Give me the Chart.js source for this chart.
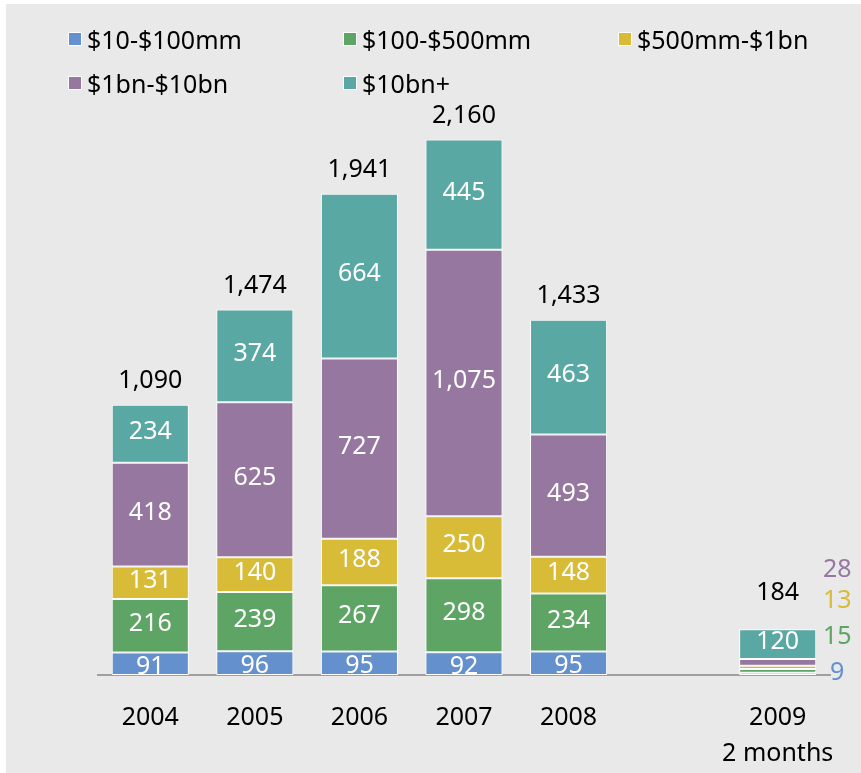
<!DOCTYPE html>
<html>
<head>
<meta charset="utf-8">
<script src="https://cdn.jsdelivr.net/npm/chart.js@4/dist/chart.umd.min.js"></script>
<style>
  html, body { margin: 0; padding: 0; background: #fff; }
  #wrap { position: relative; width: 861px; height: 773px; overflow: hidden; }
  #bg { position: absolute; left: 6px; top: 4px; right: 0; bottom: 0; background: #e9e9e9; }
  #chart { position: absolute; left: 0; top: 0; }
  .leg { position: absolute; font: 25px "Noto Sans", sans-serif; color: #000; white-space: nowrap; line-height: 28px; }
  .leg i { position: absolute; left: -19px; top: 7px; width: 12px; height: 12px; border: 1px solid #fff; }
</style>
</head>
<body>
<div id="wrap">
  <div id="bg"></div>
  <canvas id="chart" width="861" height="773"></canvas>
  <div id="legend"></div>
</div>
<script>
// categories (empty slot between 2008 and 2009)
const years = ['2004', '2005', '2006', '2007', '2008', '', ['2009', '2 months']];

// deal counts by size bucket
const tier10to100mm = [91, 96, 95, 92, 95, null, 9];
const tier100to500mm = [216, 239, 267, 298, 234, null, 15];
const tier500mmTo1bn = [131, 140, 188, 250, 148, null, 13];
const tier1to10bn = [418, 625, 727, 1075, 493, null, 28];
const tier10bnPlus = [234, 374, 664, 445, 463, null, 120];
const totals = [1090, 1474, 1941, 2160, 1433, null, 184];

const seriesNames = ['$10-$100mm', '$100-$500mm', '$500mm-$1bn', '$1bn-$10bn', '$10bn+'];
const colors = ['#6490cd', '#5ea465', '#d8bb36', '#95779f', '#5aa8a4'];

// html legend
const legendPos = [[87, 25], [362, 25], [637, 25], [87, 69], [362, 69]];
const legend = document.getElementById('legend');
seriesNames.forEach((name, i) => {
  const d = document.createElement('div');
  d.className = 'leg';
  d.style.left = legendPos[i][0] + 'px';
  d.style.top = legendPos[i][1] + 'px';
  d.innerHTML = '<i style="background:' + colors[i] + '"></i>';
  d.appendChild(document.createTextNode(name));
  legend.appendChild(d);
});

const FONT = '"Noto Sans", sans-serif';
const LAST = years.length - 1;
// where the tiny 2009 segments get their labels (px above the axis)
const sideOffsets = [2, 38, 74, 105];

const labelPlugin = {
  id: 'labels',
  afterDatasetsDraw(chart) {
    const ctx = chart.ctx;
    const area = chart.chartArea;
    ctx.save();
    ctx.font = '25px ' + FONT;
    ctx.textAlign = 'center';
    ctx.textBaseline = 'middle';

    chart.data.datasets.forEach((ds, di) => {
      const meta = chart.getDatasetMeta(di);
      meta.data.forEach((bar, i) => {
        const v = ds.data[i];
        if (v == null) return;
        if (i === LAST && di < 4) {
          ctx.fillStyle = colors[di];
          ctx.fillText(String(v), bar.x + bar.width / 2 + 21, area.bottom - sideOffsets[di]);
          return;
        }
        ctx.save();
        ctx.beginPath();
        ctx.rect(area.left, area.top, area.right - area.left, area.bottom - area.top);
        ctx.clip();
        ctx.fillStyle = '#fff';
        const dy = di === 0 ? 3 : -2;
        ctx.fillText(v.toLocaleString('en-US'), bar.x, (bar.y + bar.base) / 2 + dy);
        ctx.restore();
      });
    });

    // totals above stacks
    const topMeta = chart.getDatasetMeta(4);
    topMeta.data.forEach((bar, i) => {
      if (totals[i] == null) return;
      const gap = i === LAST ? 36 : 24;
      ctx.fillStyle = '#000';
      ctx.fillText(totals[i].toLocaleString('en-US'), bar.x, bar.y - gap);
    });
    ctx.restore();
  }
};

const seriesData = [tier10to100mm, tier100to500mm, tier500mmTo1bn, tier1to10bn, tier10bnPlus];

new Chart(document.getElementById('chart').getContext('2d'), {
  type: 'bar',
  data: {
    labels: years,
    datasets: seriesData.map((d, i) => ({
      label: seriesNames[i],
      data: d,
      backgroundColor: colors[i],
      borderColor: '#ffffff',
      borderWidth: 1,
      borderSkipped: false,
      categoryPercentage: 1,
      barPercentage: 0.737
    }))
  },
  options: {
    responsive: false,
    animation: false,
    devicePixelRatio: 1,
    layout: { padding: { left: 98, right: 31, top: 80, bottom: 1 } },
    plugins: {
      legend: { display: false },
      tooltip: { enabled: false }
    },
    scales: {
      x: {
        stacked: true,
        z: 1,
        grid: { display: false, drawTicks: false },
        border: { display: true, color: '#a0a0a0', width: 2 },
        afterFit: scale => { scale.height = 97; },
        ticks: {
          color: '#000',
          padding: 25,
          maxRotation: 0,
          autoSkip: false,
          font: { family: FONT, size: 25, lineHeight: 1.44 }
        }
      },
      y: {
        stacked: true,
        display: false,
        min: 0,
        max: 2400
      }
    }
  },
  plugins: [labelPlugin]
});
</script>
</body>
</html>
